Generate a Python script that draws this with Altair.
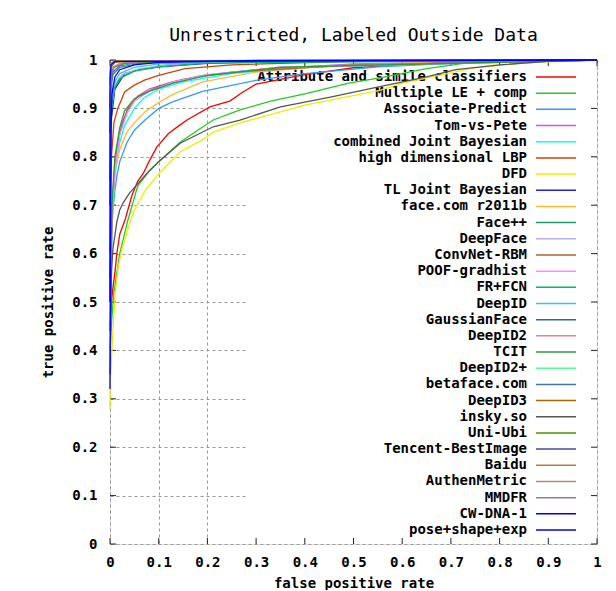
import altair as alt
import pandas as pd

names = [
    "Attribute and simile classifiers", "Multiple LE + comp", "Associate-Predict",
    "Tom-vs-Pete", "combined Joint Bayesian", "high dimensional LBP", "DFD",
    "TL Joint Bayesian", "face.com r2011b", "Face++", "DeepFace", "ConvNet-RBM",
    "POOF-gradhist", "FR+FCN", "DeepID", "GaussianFace", "DeepID2", "TCIT",
    "DeepID2+", "betaface.com", "DeepID3", "insky.so", "Uni-Ubi",
    "Tencent-BestImage", "Baidu", "AuthenMetric", "MMDFR", "CW-DNA-1",
    "pose+shape+exp",
]
colors = [
    "#ff0000", "#22cc22", "#3399ff", "#cc55ff", "#00ffff", "#cc4400", "#eeee00",
    "#2222cc", "#ffbb33", "#229966", "#bbaaff", "#aa6633", "#ff88ff", "#00bb66",
    "#33cccc", "#336699", "#dd8899", "#339933", "#55ff99", "#4477aa", "#aa6600",
    "#555555", "#449900", "#4444aa", "#aa8833", "#aa8888", "#997799", "#0000dd",
    "#0000ff",
]

# (false positive rate, true positive rate)
attribute_simile = [(0, 0.44), (0.003, 0.5), (0.006, 0.53), (0.01, 0.56), (0.014, 0.6), (0.02, 0.64),
                    (0.031, 0.67), (0.045, 0.72), (0.057, 0.75), (0.068, 0.765), (0.08, 0.79),
                    (0.096, 0.82), (0.12, 0.848), (0.144, 0.866), (0.158, 0.876), (0.205, 0.903),
                    (0.246, 0.915), (0.273, 0.934), (0.3, 0.95), (0.4, 0.97), (0.5, 0.984),
                    (0.6, 0.99), (0.8, 0.997), (1, 1)]
multiple_le = [(0, 0.4), (0.004, 0.47), (0.008, 0.52), (0.014, 0.56), (0.02, 0.6), (0.037, 0.67),
               (0.057, 0.74), (0.08, 0.77), (0.1, 0.79), (0.144, 0.83), (0.18, 0.855), (0.212, 0.876),
               (0.267, 0.897), (0.33, 0.915), (0.4, 0.93), (0.49, 0.952), (0.554, 0.963),
               (0.65, 0.982), (0.74, 0.995), (1, 1)]
associate_predict = [(0, 0.55), (0.002, 0.62), (0.006, 0.69), (0.01, 0.73), (0.014, 0.76), (0.02, 0.79),
                     (0.035, 0.83), (0.05, 0.855), (0.072, 0.876), (0.1, 0.9), (0.127, 0.913),
                     (0.19, 0.935), (0.3, 0.958), (0.4, 0.972), (0.55, 0.986), (0.7, 0.993), (1, 1)]
tom_vs_pete = [(0, 0.5), (0.004, 0.7), (0.01, 0.78), (0.016, 0.83), (0.025, 0.87), (0.037, 0.9),
               (0.057, 0.925), (0.08, 0.94), (0.127, 0.955), (0.19, 0.968), (0.3, 0.98),
               (0.5, 0.992), (1, 1)]
combined_jb = [(0, 0.5), (0.005, 0.68), (0.01, 0.76), (0.02, 0.83), (0.03, 0.865), (0.05, 0.9),
               (0.07, 0.922), (0.1, 0.94), (0.15, 0.955), (0.25, 0.972), (0.4, 0.985), (1, 1)]
high_dim_lbp = [(0, 0.6), (0.003, 0.8), (0.008, 0.87), (0.016, 0.9), (0.03, 0.934), (0.05, 0.948),
                (0.072, 0.959), (0.1, 0.968), (0.154, 0.982), (0.25, 0.99), (0.5, 0.997), (1, 1)]
dfd = [(0, 0.28), (0, 0.33), (0.004, 0.4), (0.007, 0.46), (0.01, 0.51), (0.017, 0.573),
       (0.025, 0.61), (0.034, 0.643), (0.05, 0.69), (0.072, 0.73), (0.1, 0.765), (0.127, 0.793),
       (0.144, 0.81), (0.195, 0.838), (0.212, 0.851), (0.267, 0.87), (0.35, 0.893), (0.4, 0.907),
       (0.554, 0.937), (0.6, 0.952), (0.745, 0.983), (0.85, 0.994), (1, 1)]
tl_jb = [(0, 0.7), (0.003, 0.88), (0.01, 0.94), (0.03, 0.972), (0.06, 0.98), (0.1, 0.986),
         (0.2, 0.993), (0.4, 0.998), (1, 1)]
face_com = [(0, 0.5), (0.003, 0.64), (0.006, 0.71), (0.01, 0.77), (0.02, 0.815), (0.035, 0.852),
            (0.05, 0.87), (0.072, 0.893), (0.1, 0.912), (0.127, 0.928), (0.19, 0.955), (0.3, 0.975),
            (0.45, 0.988), (0.7, 0.997), (1, 1)]
face_pp = [(0, 0.75), (0.003, 0.9), (0.01, 0.945), (0.025, 0.965), (0.05, 0.978), (0.1, 0.988),
           (0.2, 0.996), (1, 1)]
deepface = [(0, 0.78), (0.003, 0.9), (0.01, 0.95), (0.025, 0.97), (0.06, 0.982), (0.12, 0.99),
            (0.25, 0.997), (1, 1)]
convnet_rbm = [(0, 0.45), (0.005, 0.7), (0.01, 0.78), (0.02, 0.85), (0.035, 0.895), (0.057, 0.925),
               (0.1, 0.945), (0.15, 0.96), (0.25, 0.975), (0.5, 0.99), (1, 1)]
poof_gradhist = [(0, 0.5), (0.004, 0.68), (0.01, 0.77), (0.02, 0.845), (0.035, 0.89), (0.05, 0.915),
                 (0.08, 0.935), (0.13, 0.955), (0.2, 0.97), (0.35, 0.985), (1, 1)]
fr_fcn = [(0, 0.75), (0.003, 0.9), (0.008, 0.94), (0.02, 0.962), (0.05, 0.977), (0.1, 0.986),
          (0.2, 0.994), (1, 1)]
deepid = [(0, 0.8), (0.002, 0.9), (0.007, 0.95), (0.02, 0.972), (0.05, 0.985), (0.1, 0.992),
          (0.3, 0.998), (1, 1)]
gaussianface = [(0, 0.85), (0.002, 0.95), (0.006, 0.975), (0.02, 0.988), (0.05, 0.994),
                (0.15, 0.998), (1, 1)]
deepid2 = [(0, 0.9), (0.002, 0.97), (0.006, 0.985), (0.02, 0.993), (0.06, 0.997), (1, 1)]
tcit = [(0, 0.55), (0.005, 0.72), (0.01, 0.8), (0.02, 0.86), (0.03, 0.895), (0.05, 0.92),
        (0.08, 0.935), (0.13, 0.952), (0.2, 0.968), (0.35, 0.985), (1, 1)]
deepid2_plus = [(0, 0.92), (0.002, 0.975), (0.008, 0.985), (0.02, 0.99), (0.06, 0.996),
                (0.2, 0.999), (1, 1)]
betaface = [(0, 0.85), (0.002, 0.94), (0.006, 0.97), (0.02, 0.985), (0.06, 0.993), (0.2, 0.998), (1, 1)]
deepid3 = [(0, 0.95), (0.002, 0.985), (0.01, 0.995), (0.05, 0.998), (1, 1)]
insky = [(0, 0.35), (0.003, 0.56), (0.006, 0.61), (0.014, 0.665), (0.02, 0.69), (0.027, 0.705),
         (0.04, 0.725), (0.055, 0.742), (0.08, 0.77), (0.1, 0.79), (0.144, 0.828), (0.212, 0.862),
         (0.267, 0.876), (0.35, 0.903), (0.45, 0.923), (0.554, 0.945), (0.65, 0.965), (0.71, 0.98),
         (0.8, 0.99), (0.9, 0.997), (1, 1)]
uni_ubi = [(0, 0.9), (0.002, 0.965), (0.008, 0.985), (0.03, 0.993), (0.1, 0.997), (1, 1)]
tencent = [(0, 0.96), (0.002, 0.99), (0.01, 0.997), (1, 1)]
baidu = [(0, 0.97), (0.001, 0.993), (0.01, 0.998), (1, 1)]
authenmetric = [(0, 0.97), (0.002, 0.99), (0.01, 0.997), (1, 1)]
mmdfr = [(0, 0.9), (0.002, 0.97), (0.008, 0.985), (0.03, 0.994), (0.1, 0.998), (1, 1)]
cw_dna = [(0, 0.5), (0, 0.95), (0.002, 0.99), (0.01, 0.997), (1, 1)]
pose_shape_exp = [(0, 0.32), (0.001, 0.6), (0.002, 0.85), (0.004, 0.93), (0.01, 0.965), (0.02, 0.98),
                  (0.05, 0.99), (0.1, 0.995), (0.3, 0.999), (1, 1)]

series = [attribute_simile, multiple_le, associate_predict, tom_vs_pete, combined_jb, high_dim_lbp,
          dfd, tl_jb, face_com, face_pp, deepface, convnet_rbm, poof_gradhist, fr_fcn, deepid,
          gaussianface, deepid2, tcit, deepid2_plus, betaface, deepid3, insky, uni_ubi, tencent,
          baidu, authenmetric, mmdfr, cw_dna, pose_shape_exp]

ticks = [0, 0.1, 0.2, 0.3, 0.4, 0.5, 0.6, 0.7, 0.8, 0.9, 1]

rows = []
for k, (nm, pts) in enumerate(zip(names, series)):
    for i, (fx, ty) in enumerate(pts):
        rows.append({"name": nm, "fpr": fx, "tpr": ty, "ord": i, "s": k})
df = pd.DataFrame(rows)
leg = pd.DataFrame({"name": names})
tk = pd.DataFrame({"v": ticks})

W, H = 487, 484
FONT = "DejaVu Sans Mono"
xs = alt.Scale(domain=[0, 1], nice=False, zero=False)
ys = alt.Scale(domain=[0, 1], nice=False, zero=False)
cs = alt.Scale(domain=names, range=colors)

xax = alt.Axis(
    values=ticks, format=".1~f", title="false positive rate", grid=True,
    gridDash=[3, 3], gridColor="#999", gridWidth=1, ticks=False, tickSize=0, domain=False,
    labelFont=FONT, labelFontSize=14, labelFontWeight="bold", labelColor="black",
    labelPadding=11, labelFlush=False,
    titleFont=FONT, titleFontSize=14, titleFontWeight="bold", titleColor="black",
    titlePadding=7)
yax = alt.Axis(
    values=ticks, format=".1~f", title="true positive rate", grid=True,
    gridDash=[3, 3], gridColor="#999", gridWidth=1, ticks=False, tickSize=0, domain=False,
    labelFont=FONT, labelFontSize=14, labelFontWeight="bold", labelColor="black",
    labelPadding=13, labelFlush=False,
    titleFont=FONT, titleFontSize=14, titleFontWeight="bold", titleColor="black",
    titlePadding=16)

key_bg = alt.Chart(leg).mark_rect(color="white").encode(
    x=alt.value(136), x2=alt.value(486), y=alt.value(1), y2=alt.value(483)
).transform_filter(alt.datum.name == names[0])

tick_b = alt.Chart(tk).mark_rule(color="#222", strokeWidth=1).encode(
    x=alt.X("v:Q", scale=xs, axis=xax), y=alt.value(H), y2=alt.value(H - 6))
tick_t = alt.Chart(tk).mark_rule(color="#222", strokeWidth=1).encode(
    x=alt.X("v:Q", scale=xs, axis=xax), y=alt.value(0), y2=alt.value(6))
tick_l = alt.Chart(tk).mark_rule(color="#222", strokeWidth=1).encode(
    y=alt.Y("v:Q", scale=ys, axis=None), x=alt.value(0), x2=alt.value(6))
tick_r = alt.Chart(tk).mark_rule(color="#222", strokeWidth=1).encode(
    y=alt.Y("v:Q", scale=ys, axis=None), x=alt.value(W - 6), x2=alt.value(W))

ly = alt.Y("name:N", sort=names, axis=None,
           scale=alt.Scale(type="point", range=[17, 470], padding=0))
key_text = alt.Chart(leg).mark_text(
    align="right", baseline="middle", font=FONT, fontSize=14, fontWeight="bold", color="black"
).encode(y=ly, x=alt.value(417), text="name:N")
key_line = alt.Chart(leg).mark_rule(strokeWidth=1.5).encode(
    y=ly, x=alt.value(426), x2=alt.value(466),
    color=alt.Color("name:N", scale=cs, legend=None))

base_curves = alt.Chart(df).mark_line(strokeWidth=1.3).encode(
    x=alt.X("fpr:Q", scale=xs, axis=xax),
    color=alt.Color("name:N", scale=cs, legend=None),
    detail="s:N",
    order="ord:Q",
)
grid_layer = base_curves.encode(y=alt.Y("tpr:Q", scale=ys, axis=yax), opacity=alt.value(0))
curves = base_curves.encode(y=alt.Y("tpr:Q", scale=ys, axis=None))

chart = alt.layer(
    grid_layer, key_bg, tick_b, tick_t, tick_l, tick_r, key_text, key_line, curves,
).resolve_scale(y="independent").properties(
    width=W, height=H,
    title=alt.TitleParams("Unrestricted, Labeled Outside Data", font=FONT, fontSize=18,
                          fontWeight="normal", color="black", offset=8, anchor="middle"),
    padding={"left": 102, "top": 52, "right": 11, "bottom": 46},
    autosize=alt.AutoSizeParams(type="none"),
).configure_view(stroke="#555", strokeWidth=2).configure(background="white")

chart.save("out.html", embed_options={"renderer": "svg", "actions": False})
